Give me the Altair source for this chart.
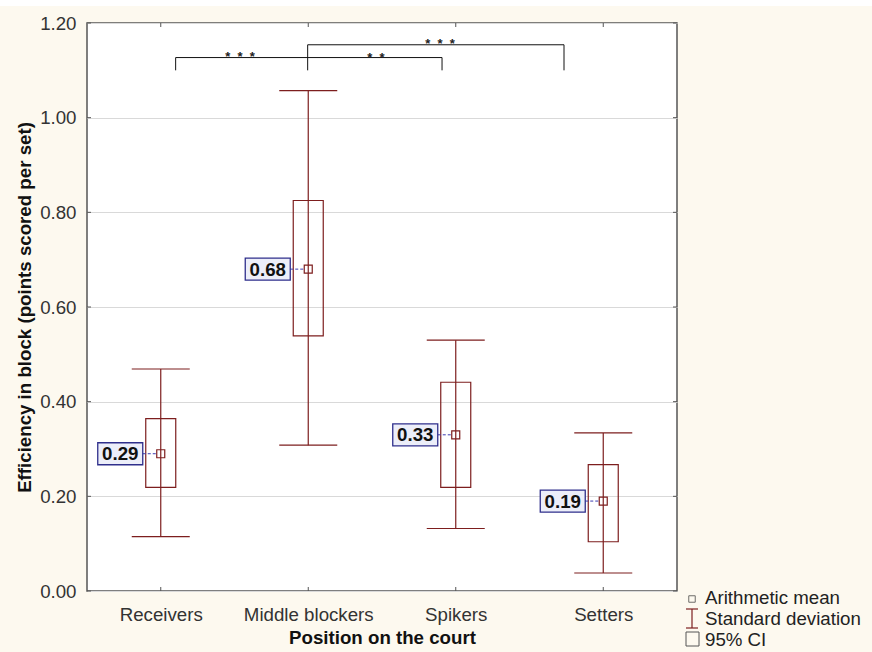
import altair as alt
import pandas as pd

# Block efficiency by court position: mean, 95% CI and +/- 1 SD
positions = ["Receivers", "Middle blockers", "Spikers", "Setters"]
mean = [0.29, 0.68, 0.33, 0.19]
ci_low = [0.219, 0.539, 0.219, 0.104]
ci_high = [0.364, 0.825, 0.441, 0.267]
sd_low = [0.115, 0.308, 0.132, 0.038]
sd_high = [0.469, 1.057, 0.530, 0.334]

# significance brackets (x in category units, y in efficiency units)
bracket_left = [1.101, 1.996]
bracket_right = [2.907, 3.734]
bracket_top = [1.127, 1.154]
bracket_foot = 1.100
star_x = [1.537, 2.459, 2.893]
star_y = [1.137, 1.135, 1.165]
star_count = [3, 2, 3]

y_ticks = [0.0, 0.2, 0.4, 0.6, 0.8, 1.0, 1.2]

W, H = 590, 568
DARK_RED = "#7d1e1e"
FONT = "Liberation Sans"
FS = 18.7

df = pd.DataFrame({
    "pos": list(range(1, len(positions) + 1)),
    "name": positions,
    "mean": mean,
    "ci_low": ci_low,
    "ci_high": ci_high,
    "sd_low": sd_low,
    "sd_high": sd_high,
})
df["label"] = [f"{m:.2f}" for m in mean]

segments = []
for l, r, t in zip(bracket_left, bracket_right, bracket_top):
    segments.append({"x": l, "x2": r, "y": t, "y2": t})
    segments.append({"x": l, "x2": l, "y": t, "y2": bracket_foot})
    segments.append({"x": r, "x2": r, "y": t, "y2": bracket_foot})
seg_df = pd.DataFrame(segments)
gap = "\u00a0\u00a0"
star_df = pd.DataFrame({"x": star_x, "y": star_y, "t": [gap.join("*" * n) for n in star_count]})

label_expr = "[" + ",".join(f"'{p}'" for p in positions) + "][datum.value - 1]"

X_AXIS = alt.Axis(
    values=list(range(1, len(positions) + 1)), labelExpr=label_expr,
    title="Position on the court", grid=False, domain=False, ticks=False,
    tickSize=0, labelFontSize=FS, labelFont=FONT, labelColor="#333333",
    labelPadding=23, labelBaseline="middle",
    titleFontSize=FS, titleFont=FONT, titleFontWeight="bold", titleColor="#111111",
    titleY=46, titleBaseline="middle",
)
Y_AXIS = alt.Axis(
    values=y_ticks, format=".2f", title="Efficiency in block (points scored per set)",
    grid=True, gridColor="#d9d9d9", gridWidth=1, domain=False, ticks=False, tickSize=0,
    labelFontSize=FS, labelFont=FONT, labelColor="#333333", labelPadding=11,
    titleFontSize=FS, titleFont=FONT, titleFontWeight="bold", titleColor="#111111",
    titleAngle=270, titleX=-63, titleY=H / 2, titleBaseline="middle", titleAlign="center",
)
X_SCALE = alt.Scale(domain=[0.5, len(positions) + 0.5], nice=False, zero=False)
Y_SCALE = alt.Scale(domain=[0, 1.2], nice=False, zero=True)


def xq(field):
    return alt.X(f"{field}:Q", scale=X_SCALE, axis=X_AXIS)


def yq(field):
    return alt.Y(f"{field}:Q", scale=Y_SCALE, axis=Y_AXIS)


base = alt.Chart(df)

# inward tick marks on all four sides of the frame
tick_df = pd.DataFrame({"v": y_ticks})
cat_df = pd.DataFrame({"pos": df["pos"]})
ticks_left = alt.Chart(tick_df).mark_rule(color="#555555").encode(
    y=yq("v"), x=alt.value(0), x2=alt.value(4))
ticks_right = alt.Chart(tick_df).mark_rule(color="#555555").encode(
    y=yq("v"), x=alt.value(W - 4), x2=alt.value(W))
ticks_bottom = alt.Chart(cat_df).mark_rule(color="#555555").encode(
    x=xq("pos"), y=alt.value(H - 4), y2=alt.value(H))
ticks_top = alt.Chart(cat_df).mark_rule(color="#555555").encode(
    x=xq("pos"), y=alt.value(0), y2=alt.value(4))

ci_box = base.mark_rect(
    fill="transparent", stroke=DARK_RED, strokeWidth=1.2, xOffset=-15, x2Offset=15
).encode(x=xq("pos"), x2="pos:Q", y=yq("ci_low"), y2="ci_high:Q")

sd_line = base.mark_rule(color=DARK_RED, strokeWidth=1.2).encode(
    x=xq("pos"), y=yq("sd_low"), y2="sd_high:Q")
cap_hi = base.mark_rule(color=DARK_RED, strokeWidth=1.2, xOffset=-29, x2Offset=29).encode(
    x=xq("pos"), x2="pos:Q", y=yq("sd_high"))
cap_lo = base.mark_rule(color=DARK_RED, strokeWidth=1.2, xOffset=-29, x2Offset=29).encode(
    x=xq("pos"), x2="pos:Q", y=yq("sd_low"))

mean_pt = base.mark_point(
    shape="square", size=64, filled=False, color=DARK_RED, strokeWidth=1.2, opacity=1
).encode(x=xq("pos"), y=yq("mean"))

leader = base.mark_rule(
    color="#3b3bb0", strokeWidth=1, strokeDash=[3, 2], xOffset=-18, x2Offset=-4
).encode(x=xq("pos"), x2="pos:Q", y=yq("mean"))

label_box = base.mark_rect(
    fill="#eceef9", stroke="#2f2f8c", strokeWidth=1.3,
    xOffset=-63, x2Offset=-18, yOffset=-11, y2Offset=11,
).encode(x=xq("pos"), x2="pos:Q", y=yq("mean"), y2="mean:Q")

label_text = base.mark_text(
    font=FONT, fontSize=FS, fontWeight="bold", color="#111111",
    align="center", baseline="middle", xOffset=-40.5, yOffset=0.5,
).encode(x=xq("pos"), y=yq("mean"), text="label:N")

brackets = alt.Chart(seg_df).mark_rule(color="#111111", strokeWidth=1).encode(
    x=xq("x"), x2="x2:Q", y=yq("y"), y2="y2:Q")
stars = alt.Chart(star_df).mark_text(
    font=FONT, fontSize=13, fontWeight="bold", color="#222222",
    align="center", baseline="alphabetic", dy=8,
).encode(x=xq("x"), y=yq("y"), text="t:N")

# legend drawn beside the frame, lower right
one = pd.DataFrame({"k": [0]})
leg_mean_sym = alt.Chart(one).mark_point(
    shape="square", size=42, filled=False, color="#333333", strokeWidth=1
).encode(x=alt.value(605), y=alt.value(576))
leg_sd_stem = alt.Chart(one).mark_rule(color=DARK_RED, strokeWidth=1.2).encode(
    x=alt.value(605), y=alt.value(586), y2=alt.value(605))
leg_sd_top = alt.Chart(one).mark_rule(color=DARK_RED, strokeWidth=1.2).encode(
    x=alt.value(599), x2=alt.value(611), y=alt.value(586))
leg_sd_bot = alt.Chart(one).mark_rule(color=DARK_RED, strokeWidth=1.2).encode(
    x=alt.value(599), x2=alt.value(611), y=alt.value(605))
leg_ci_sym = alt.Chart(one).mark_rect(
    fill="transparent", stroke="#555555", strokeWidth=1
).encode(x=alt.value(599), x2=alt.value(612), y=alt.value(609), y2=alt.value(623))

legend_labels = ["Arithmetic mean", "Standard deviation", "95% CI"]
legend_y = [575, 596, 617]
leg_texts = [
    alt.Chart(pd.DataFrame({"t": [t]})).mark_text(
        font=FONT, fontSize=FS, color="#222222", align="left", baseline="middle"
    ).encode(x=alt.value(618), y=alt.value(yy), text="t:N")
    for t, yy in zip(legend_labels, legend_y)
]

# thin white band along the top edge of the page
top_band = alt.Chart(one).mark_rect(fill="white").encode(
    x=alt.value(-87), x2=alt.value(W + 195), y=alt.value(-23), y2=alt.value(-17))

chart = alt.layer(
    top_band, ticks_left, ticks_right, ticks_bottom, ticks_top,
    ci_box, sd_line, cap_hi, cap_lo, leader, label_box, label_text, mean_pt,
    brackets, stars,
    leg_mean_sym, leg_sd_stem, leg_sd_top, leg_sd_bot, leg_ci_sym, *leg_texts,
).properties(
    width=W, height=H,
    autosize=alt.AutoSizeParams(type="none"),
    padding={"left": 87, "top": 23, "right": 195, "bottom": 61},
    background="#fdf9ef",
).configure_view(
    fill="white", stroke="#555555", strokeWidth=1.5,
)

chart.save("out.html", embed_options={"renderer": "svg", "actions": False})
